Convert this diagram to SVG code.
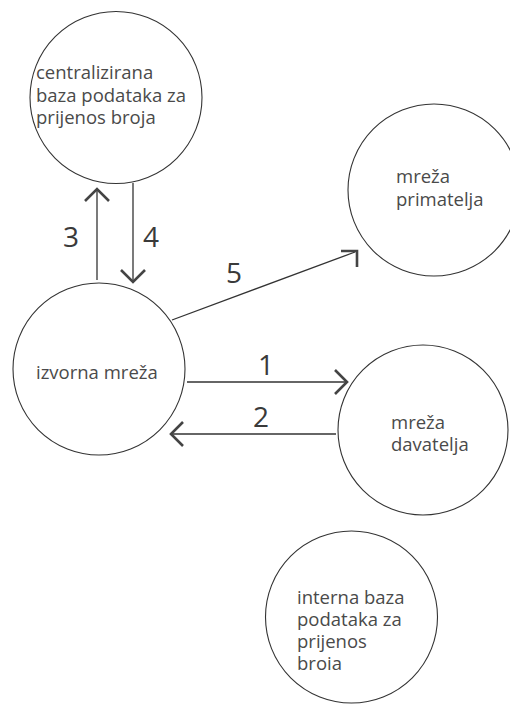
<svg xmlns="http://www.w3.org/2000/svg" width="510" height="705" viewBox="0 0 510 705">
<style>
.node circle{fill:#fff;stroke:#333;stroke-width:1.1}
.lbl{font-family:"Open Sans","Noto Sans",sans-serif;font-size:18.5px;fill:#4a4a4a}
.num{font-family:"Open Sans","Noto Sans",sans-serif;font-size:28px;fill:#3a3a3a}
.edge{stroke:#333;stroke-width:1.3;fill:none}
.head{stroke:#444;stroke-width:2.6;fill:none;stroke-linecap:butt;stroke-linejoin:miter}
</style>
<rect width="510" height="705" fill="#fff"/>
<g id="connectors">
<g id="e3"><line class="edge" x1="97" y1="280" x2="97" y2="190"/><polyline class="head" points="85,201 97,189 109,201"/><text class="num" x="63" y="247">3</text></g>
<g id="e4"><line class="edge" x1="133" y1="183" x2="133" y2="282"/><polyline class="head" points="121,270 133,282 145,270"/><text class="num" x="143" y="247">4</text></g>
<g id="e5"><line class="edge" x1="172" y1="320" x2="355" y2="252"/><polyline class="head" points="341,251 357,251 357,267"/><text class="num" x="226" y="283">5</text></g>
<g id="e1"><line class="edge" x1="187" y1="382" x2="346" y2="382"/><polyline class="head" points="335,370 347,382 335,394"/><text class="num" x="258" y="375">1</text></g>
<g id="e2"><line class="edge" x1="336" y1="434" x2="171" y2="434"/><polyline class="head" points="183,422 171,434 183,446"/><text class="num" x="253" y="427">2</text></g>
</g>
<g id="n-central" class="node"><circle cx="116" cy="97.5" r="86"/>
<text class="lbl" x="36" y="79">centralizirana</text>
<text class="lbl" x="36" y="102">baza podataka za</text>
<text class="lbl" x="36" y="124">prijenos broja</text></g>
<g id="n-primatelj" class="node"><circle cx="434" cy="190" r="86"/>
<text class="lbl" x="396" y="183">mreža</text>
<text class="lbl" x="396" y="206">primatelja</text></g>
<g id="n-izvorna" class="node"><circle cx="99" cy="369" r="86"/>
<text class="lbl" x="36" y="379">izvorna mreža</text></g>
<g id="n-davatelj" class="node"><circle cx="423" cy="430" r="85"/>
<text class="lbl" x="391" y="429">mreža</text>
<text class="lbl" x="391" y="451">davatelja</text></g>
<g id="n-interna" class="node"><circle cx="351.5" cy="617" r="86"/>
<text class="lbl" x="297" y="604">interna baza</text>
<text class="lbl" x="297" y="626">podataka za</text>
<text class="lbl" x="297" y="648">prijenos</text>
<text class="lbl" x="297" y="670">broia</text></g>
</svg>
